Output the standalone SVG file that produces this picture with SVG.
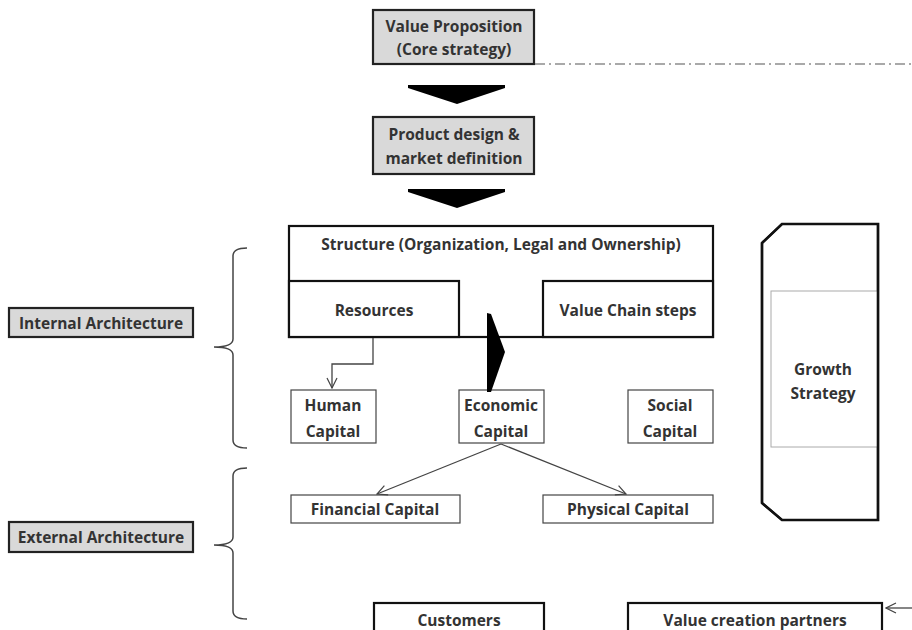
<svg xmlns="http://www.w3.org/2000/svg" width="912" height="630" viewBox="0 0 912 630">
<defs>
<style>
text{font-family:"Open Sans","Liberation Sans",sans-serif;font-weight:700;font-size:15.5px;fill:#333;text-anchor:middle;dominant-baseline:central}
.gray{fill:#d9d9d9;stroke:#222;stroke-width:2.2}
.thick{fill:#fff;stroke:#111;stroke-width:2.2}
.outline{fill:none;stroke:#111;stroke-width:2.6}
.thin{fill:#fff;stroke:#444;stroke-width:1.2}
.conn{fill:none;stroke:#444;stroke-width:1.3}
.brace{fill:none;stroke:#444;stroke-width:1.5}
.solid{fill:#000;stroke:none}
</style>
<marker id="open" viewBox="0 0 12 12" refX="11" refY="6" markerWidth="12" markerHeight="12" markerUnits="userSpaceOnUse" orient="auto">
<path d="M1,1 L11,6 L1,11" fill="none" stroke="#444" stroke-width="1.2"/>
</marker>
</defs>
<rect width="912" height="630" fill="#fff"/>

<g id="value-proposition">
<rect class="gray" x="373" y="10" width="161" height="54"/>
<text x="454" y="26">Value Proposition</text>
<text x="454" y="49">(Core strategy)</text>
</g>

<g id="product-design">
<rect class="gray" x="373" y="117" width="161" height="57"/>
<text x="454" y="134">Product design &amp;</text>
<text x="454" y="158">market definition</text>
</g>

<g id="structure">
<rect class="thick" x="289" y="226" width="424" height="111"/>
<text x="501" y="244">Structure (Organization, Legal and Ownership)</text>
</g>

<g id="resources">
<rect class="thick" x="289" y="281" width="170" height="56"/>
<text x="374" y="310">Resources</text>
</g>

<g id="value-chain">
<rect class="thick" x="543" y="281" width="170" height="56"/>
<text x="628" y="310">Value Chain steps</text>
</g>

<g id="human-capital">
<rect class="thin" x="291" y="390" width="85" height="53"/>
<text x="333" y="405">Human</text>
<text x="333" y="431">Capital</text>
</g>

<g id="economic-capital">
<rect class="thin" x="459" y="390" width="85" height="53"/>
<text x="501" y="405">Economic</text>
<text x="501" y="431">Capital</text>
</g>

<g id="social-capital">
<rect class="thin" x="628" y="390" width="85" height="53"/>
<text x="670" y="405">Social</text>
<text x="670" y="431">Capital</text>
</g>

<g id="financial-capital">
<rect class="thin" x="291" y="495" width="169" height="28"/>
<text x="375" y="509">Financial Capital</text>
</g>

<g id="physical-capital">
<rect class="thin" x="543" y="495" width="170" height="28"/>
<text x="628" y="509">Physical Capital</text>
</g>

<g id="customers">
<rect class="thick" x="374" y="603" width="170" height="40"/>
<text x="459" y="620">Customers</text>
</g>

<g id="value-creation-partners">
<rect class="thick" x="628" y="603" width="254" height="40"/>
<text x="755" y="620">Value creation partners</text>
</g>

<g id="growth-strategy">
<polygon class="thick" points="782,224 878,224 878,520 782,520 762,503 762,243"/>
<rect x="771" y="291" width="107" height="156" fill="#fff" stroke="#aaa" stroke-width="1"/>
<polygon class="outline" points="782,224 878,224 878,520 782,520 762,503 762,243"/>
<text x="823" y="369">Growth</text>
<text x="823" y="393">Strategy</text>
</g>

<g id="internal-architecture">
<rect class="gray" x="9" y="308" width="184" height="29"/>
<text x="101" y="323">Internal Architecture</text>
</g>

<g id="external-architecture">
<rect class="gray" x="9" y="522" width="184" height="30"/>
<text x="101" y="537">External Architecture</text>
</g>

<g id="connectors">
<line x1="535" y1="64" x2="912" y2="64" stroke="#555" stroke-width="1.2" stroke-dasharray="10,4,2,4"/>
<polygon class="solid" points="408,85 505,85 505,88 457,104 408,88"/>
<polygon class="solid" points="408,189 505,189 505,192 457,208 408,192"/>
<polygon class="solid" points="487,313 491,314 505,352 491,392 487,392"/>
<polyline class="conn" points="373,338 373,364 332,364 332,388" marker-end="url(#open)"/>
<line class="conn" x1="501" y1="444" x2="377" y2="494" marker-end="url(#open)"/>
<line class="conn" x1="501" y1="444" x2="626" y2="494" marker-end="url(#open)"/>
<line class="conn" x1="912" y1="608" x2="886" y2="608" marker-end="url(#open)"/>
<path class="brace" d="M247,248 Q233,248 233,256 L233,339 Q233,347 214,347 Q233,347 233,355 L233,440 Q233,448 247,448"/>
<path class="brace" d="M247,468 Q233,468 233,476 L233,537 Q233,545 214,545 Q233,545 233,553 L233,611 Q233,619 247,619"/>
</g>
</svg>
